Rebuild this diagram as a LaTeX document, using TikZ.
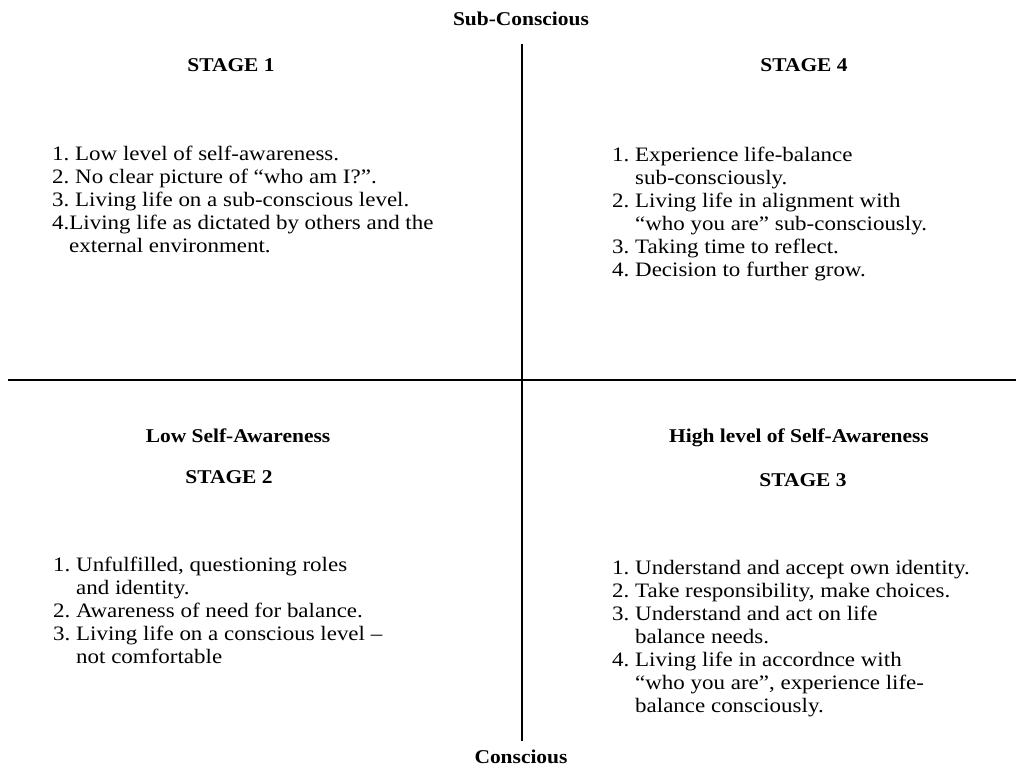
\documentclass[tikz,border=0pt]{standalone}
\usepackage{fontspec}
\setmainfont{Liberation Serif}[FakeStretch=1.1]
\newfontfamily\bodyfont{Liberation Serif}[FakeStretch=1.12]
\newcommand{\itm}[1]{\makebox[23pt][l]{#1}}
\newcommand{\cnt}{\hspace*{23pt}}
\begin{document}
\begin{tikzpicture}[x=1pt,y=-1pt,
  head/.style={font=\fontsize{19.5}{23}\selectfont\bfseries, inner sep=0pt},
  itemlist/.style={font=\bodyfont\fontsize{20.5}{23}\selectfont, align=left, anchor=north west, inner sep=0pt},
  axisline/.style={line width=2.6pt, black}]
\useasboundingbox (0,0) rectangle (1016,771);
\fill[white] (0,0) rectangle (1016,771);

% axes
\coordinate (top) at (522,44);
\coordinate (bottom) at (522,741);
\coordinate (left) at (8,380);
\coordinate (right) at (1016,380);
\draw[axisline] (top) -- (bottom);
\draw[axisline] (left) -- (right);

% axis labels
\node[head] (sub) at (521,19) {Sub-Conscious};
\node[head] (con) at (521,757) {Conscious};

% headings
\node[head] (s1) at (231,65) {STAGE 1};
\node[head] (s4) at (804,65) {STAGE 4};
\node[head] (low) at (238,436) {Low Self-Awareness};
\node[head] (s2) at (229,477) {STAGE 2};
\node[head] (high) at (799,438) {High level of Self-Awareness};
\node[head] (s3) at (803,480) {STAGE 3};

% lists
\node[itemlist] (l1) at (52,146) {%
\itm{1.}Low level of self-awareness.\\
\itm{2.}No clear picture of “who am I?”.\\
\itm{3.}Living life on a sub-conscious level.\\
4.Living life as dictated by others and the\\
\hspace*{17pt}external environment.};

\node[itemlist] (l4) at (612,147) {%
\itm{1.}Experience life-balance\\
\cnt sub-consciously.\\
\itm{2.}Living life in alignment with\\
\cnt “who you are” sub-consciously.\\
\itm{3.}Taking time to reflect.\\
\itm{4.}Decision to further grow.};

\node[itemlist] (l2) at (53,557) {%
\itm{1.}Unfulfilled, questioning roles\\
\cnt and identity.\\
\itm{2.}Awareness of need for balance.\\
\itm{3.}Living life on a conscious level –\\
\cnt not comfortable};

\node[itemlist] (l3) at (612,560) {%
\itm{1.}Understand and accept own identity.\\
\itm{2.}Take responsibility, make choices.\\
\itm{3.}Understand and act on life\\
\cnt balance needs.\\
\itm{4.}Living life in accordnce with\\
\cnt “who you are”, experience life-\\
\cnt balance consciously.};
\end{tikzpicture}
\end{document}
